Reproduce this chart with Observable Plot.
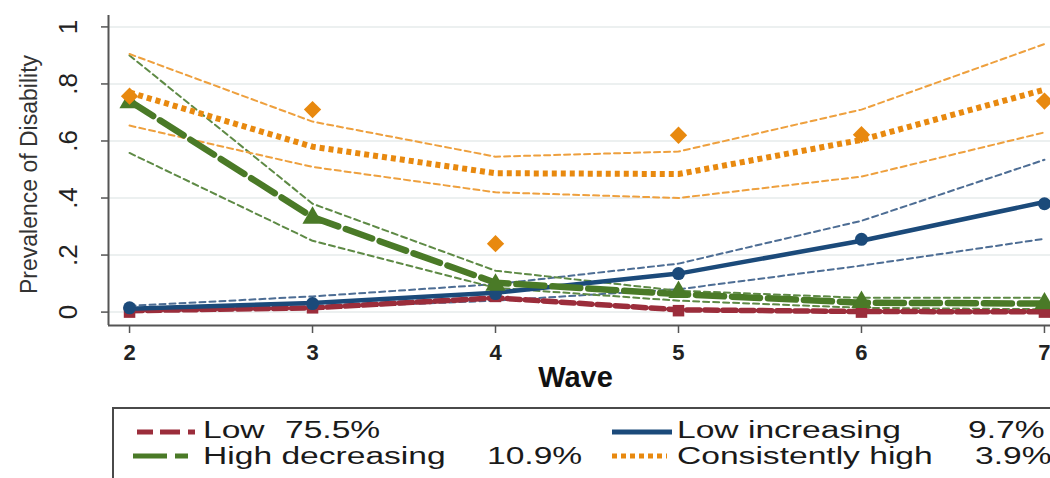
<!DOCTYPE html>
<html>
<head>
<meta charset="utf-8">
<script src="https://cdn.jsdelivr.net/npm/d3@7"></script>
<script src="https://cdn.jsdelivr.net/npm/@observablehq/plot@0.6"></script>
<style>
  html, body { margin: 0; padding: 0; background: #fff; }
  #chart svg { display: block; }
</style>
</head>
<body>
<div id="chart"></div>
<script>
// ---- data ----
const waves = [2, 3, 4, 5, 6, 7];
const xTicks = [2, 3, 4, 5, 6, 7];
const yTicks = [0, 0.2, 0.4, 0.6, 0.8, 1];
const yTickLabels = ["0", ".2", ".4", ".6", ".8", "1"];
const xDomain = [1.885, 7.033];
const yDomain = [-0.047, 1.04];

const lowFit   = [0.005, 0.015, 0.05, 0.008, 0.002, 0.001];
const lowObs   = [0.0, 0.015, 0.055, 0.005, 0.0, 0.0];

const lowIncFit   = [0.012, 0.032, 0.068, 0.135, 0.25, 0.386];
const lowIncUpper = [0.022, 0.055, 0.098, 0.17, 0.32, 0.534];
const lowIncLower = [0.005, 0.015, 0.04, 0.08, 0.163, 0.257];
const lowIncObs   = [0.015, 0.03, 0.065, 0.135, 0.255, 0.38];

const highDecFit   = [0.74, 0.333, 0.103, 0.063, 0.033, 0.03];
const highDecUpper = [0.9, 0.38, 0.145, 0.075, 0.05, 0.05];
const highDecLower = [0.558, 0.25, 0.085, 0.04, 0.015, 0.01];
const highDecObs   = [0.735, 0.33, 0.095, 0.07, 0.035, 0.03];

const consHighFit   = [0.77, 0.58, 0.487, 0.484, 0.604, 0.78];
const consHighUpper = [0.905, 0.668, 0.545, 0.563, 0.71, 0.94];
const consHighLower = [0.654, 0.509, 0.42, 0.40, 0.475, 0.63];
const consHighObs   = [0.757, 0.71, 0.24, 0.62, 0.622, 0.74];

const legendNames = ["Low", "Low increasing", "High decreasing", "Consistently high"];
const legendShares = ["75.5%", "9.7%", "10.9%", "3.9%"];

// ---- build ----
const rows = vals => waves.map((w, i) => ({wave: w, value: vals[i]}));

const series = [
  {name: "Low", color: "#9b2d3b", ci: null, fit: lowFit, obs: lowObs,
   dash: "13,5", width: 5.5, symbol: "square", r: 6.5},
  {name: "Low increasing", color: "#1b4a7a", ciColor: "#4d6d94", ci: [lowIncUpper, lowIncLower], fit: lowIncFit, obs: lowIncObs,
   dash: null, width: 4.5, symbol: "circle", r: 6.5},
  {name: "High decreasing", color: "#4a7a27", ciColor: "#5e8a45", ci: [highDecUpper, highDecLower], fit: highDecFit, obs: highDecObs,
   dash: "28,8", width: 6.5, symbol: "triangle", r: 7.5},
  {name: "Consistently high", color: "#e8890f", ciColor: "#eea03e", ci: [consHighUpper, consHighLower], fit: consHighFit, obs: consHighObs,
   dash: "5,4", width: 6, symbol: "diamond2", r: 7.8}
];

const marks = [];
marks.push(Plot.ruleY(yTicks, {stroke: "#e6ebeb", strokeWidth: 1.5}));
for (const s of series) {
  if (!s.ci) continue;
  for (const c of s.ci) {
    marks.push(Plot.line(rows(c), {x: "wave", y: "value", stroke: s.ciColor, strokeWidth: 2, strokeDasharray: "6,4"}));
  }
}
for (const s of series) {
  const opts = {x: "wave", y: "value", stroke: s.color, strokeWidth: s.width};
  if (s.dash) opts.strokeDasharray = s.dash;
  if (s.name === "Consistently high") opts.strokeLinecap = "butt";
  marks.push(Plot.line(rows(s.fit), opts));
}
for (const s of series) {
  marks.push(Plot.dot(rows(s.obs), {x: "wave", y: "value", fill: s.color, stroke: "none", symbol: s.symbol, r: s.r}));
}
// axes
marks.push(Plot.ruleX([xDomain[0]], {stroke: "#555", strokeWidth: 2}));
marks.push(Plot.ruleY([yDomain[0]], {stroke: "#555", strokeWidth: 2}));
marks.push(Plot.axisY({ticks: yTicks, tickSize: 7, tickFormat: () => "", label: null, stroke: "#555", strokeWidth: 1.5}));
marks.push(Plot.text(yTicks, {y: d => d, text: (d, i) => yTickLabels[i], frameAnchor: "left", dx: -40,
  rotate: -90, fontSize: 26, fill: "#222", textAnchor: "middle", lineAnchor: "middle"}));
marks.push(Plot.axisX({ticks: xTicks, tickSize: 8, tickPadding: 11, tickFormat: d => String(d), fontSize: 22, fontWeight: "bold",
  stroke: "#555", strokeWidth: 1.5, fill: "#222", label: null, anchor: "bottom"}));
marks.push(Plot.text(["Wave"], {text: d => d, frameAnchor: "bottom", dy: 52, dx: -4, fontSize: 29, fontWeight: "bold",
  fill: "#111", textAnchor: "middle", lineAnchor: "middle"}));
marks.push(Plot.text(["Prevalence of Disability"], {text: d => d, frameAnchor: "left", dx: -79, dy: 4,
  rotate: -90, fontSize: 23, fill: "#333", textAnchor: "middle", lineAnchor: "middle"}));

const chart = Plot.plot({
  width: 1050, height: 395,
  marginLeft: 108, marginRight: 0, marginTop: 15, marginBottom: 70,
  x: {domain: xDomain, axis: null},
  y: {domain: yDomain, axis: null},
  style: {fontFamily: "'Liberation Sans', Arial, sans-serif", background: "white", overflow: "visible"},
  marks
});
document.getElementById("chart").appendChild(chart);

// ---- legend (below the plot) ----
const lg = d3.select("#chart").append("svg")
  .attr("width", 1050).attr("height", 83)
  .style("font-family", "'Liberation Sans', Arial, sans-serif");
lg.append("rect").attr("x", 113).attr("y", 13).attr("width", 1000).attr("height", 200)
  .attr("fill", "white").attr("stroke", "#4a4a4a").attr("stroke-width", 2);

const keys = [
  {x1: 137, x2: 195, y: 37, color: series[0].color, dash: "16,7,20,8,7", w: 5},
  {x1: 612, x2: 672, y: 37, color: series[1].color, dash: null, w: 5},
  {x1: 133, x2: 188, y: 61, color: series[2].color, dash: "34,8,13", w: 5},
  {x1: 612, x2: 667, y: 61, color: series[3].color, dash: "5,4", w: 5}
];
keys.forEach(k => {
  const l = lg.append("line").attr("x1", k.x1).attr("x2", k.x2).attr("y1", k.y).attr("y2", k.y)
    .attr("stroke", k.color).attr("stroke-width", k.w);
  if (k.dash) l.attr("stroke-dasharray", k.dash);
});
const labels = [
  {x: 203, y: 43, t: legendNames[0]}, {x: 285, y: 43, t: legendShares[0]},
  {x: 677, y: 43, t: legendNames[1]}, {x: 968, y: 43, t: legendShares[1]},
  {x: 203, y: 69, t: legendNames[2]}, {x: 487, y: 69, t: legendShares[2]},
  {x: 677, y: 69, t: legendNames[3]}, {x: 975, y: 69, t: legendShares[3]}
];
labels.forEach(L => {
  const t = lg.append("text").attr("x", L.x).attr("y", L.y)
    .attr("font-size", 23).attr("fill", "#1a1a1a").text(L.t);
  const w = t.node().getComputedTextLength();
  t.attr("textLength", w * 1.46).attr("lengthAdjust", "spacingAndGlyphs");
});
</script>
</body>
</html>
